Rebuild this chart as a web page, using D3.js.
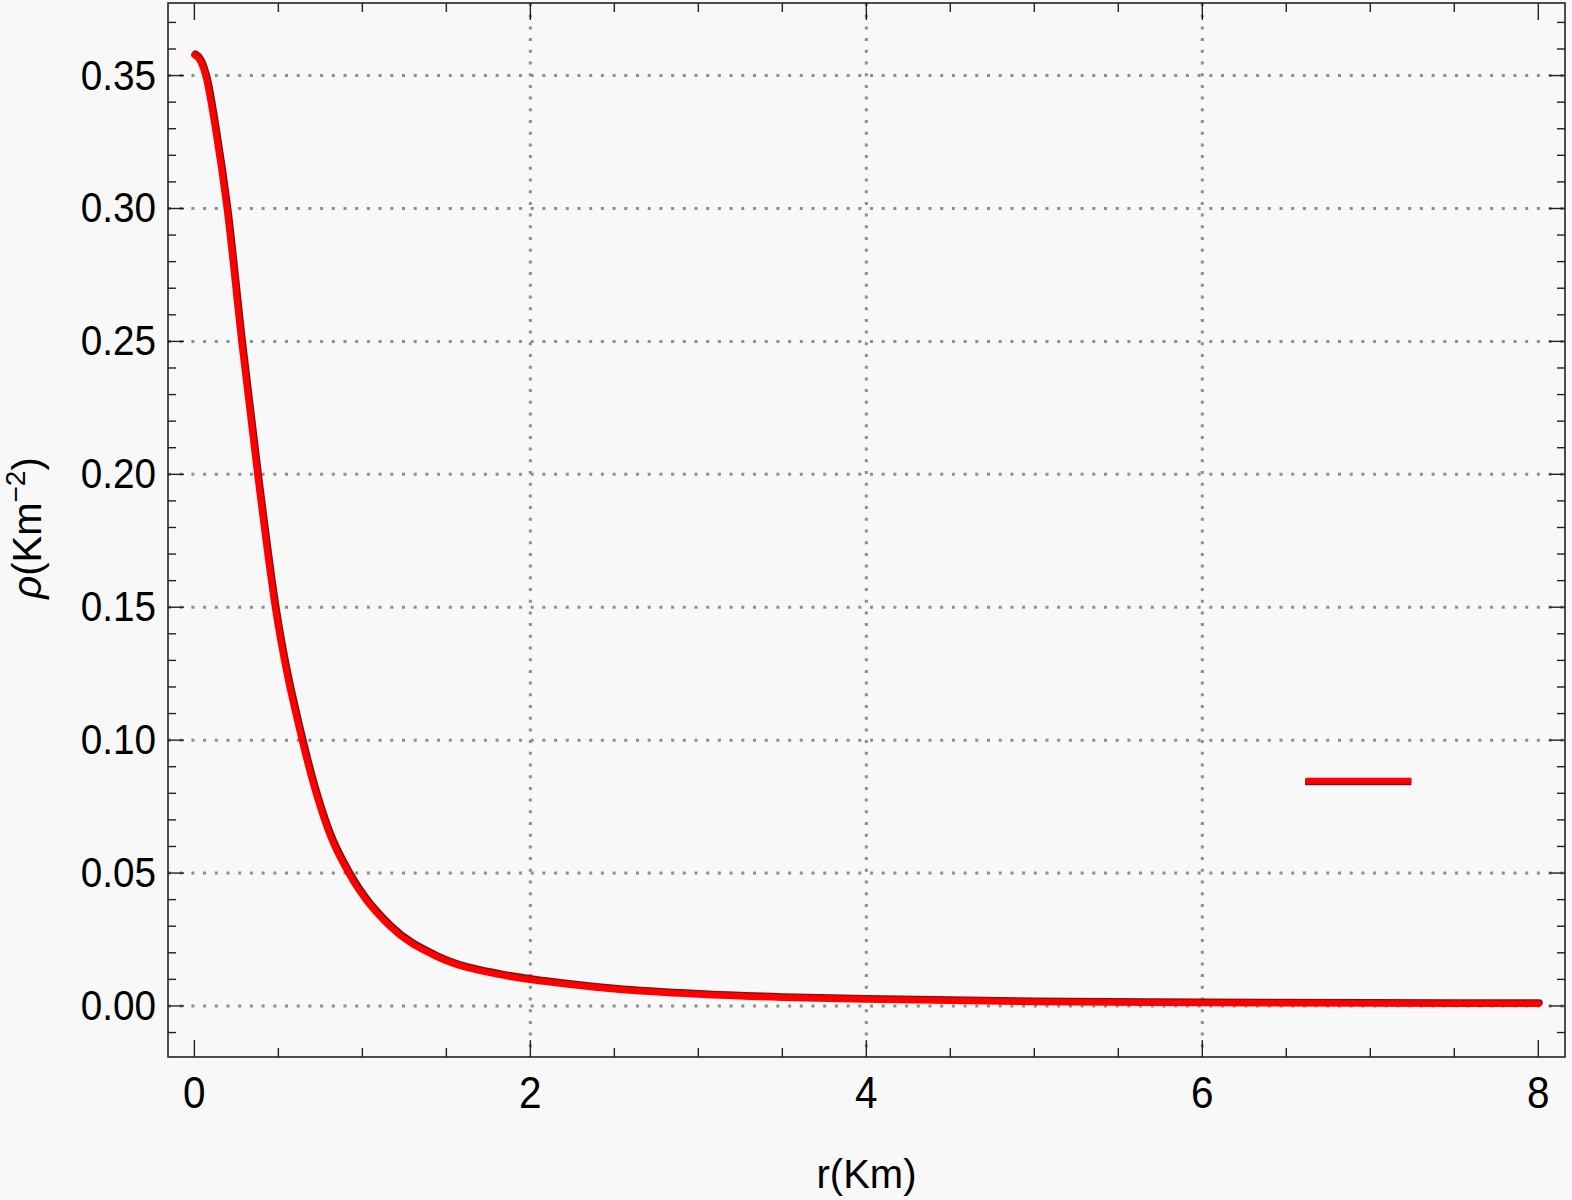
<!DOCTYPE html>
<html>
<head>
<meta charset="utf-8">
<script src="https://cdn.jsdelivr.net/npm/d3@7"></script>
<style>
  html, body { margin: 0; padding: 0; background: #f8f8f8; }
  svg { display: block; }
  text { font-family: "Liberation Sans", Arial, sans-serif; fill: #000; }
</style>
</head>
<body>
<svg id="chart" width="1572" height="1200"></svg>
<script>
// ---- data ----
const rValues   = [0, 0.035, 0.07, 0.124, 0.193, 0.28, 0.375, 0.48, 0.64, 0.81, 0.917, 1.165, 1.443, 1.82, 2.08, 2.5, 3.0, 3.5, 4.0, 5.0, 6.0, 7.0, 8.0];
const rhoValues = [0.3578, 0.3555, 0.349, 0.330, 0.30, 0.25, 0.20, 0.15, 0.10, 0.0637, 0.05, 0.0298, 0.0185, 0.0117, 0.0092, 0.0063, 0.0043, 0.0031, 0.0024, 0.0015, 0.0011, 0.0009, 0.0008];
const xTickLabels = [0, 2, 4, 6, 8];
const yTickLabels = [0.00, 0.05, 0.10, 0.15, 0.20, 0.25, 0.30, 0.35];
const xGridValues = [2, 4, 6];
const xDomain = [-0.157, 8.159];
const yDomain = [-0.0192, 0.3773];

// ---- layout ----
const W = 1572, H = 1200;
const frame = { left: 168, top: 3, right: 1565, bottom: 1057 };
const svg = d3.select("#chart");
svg.append("rect").attr("width", W).attr("height", H).attr("fill", "#f8f8f8");

const x = d3.scaleLinear().domain(xDomain).range([frame.left, frame.right]);
const y = d3.scaleLinear().domain(yDomain).range([frame.bottom, frame.top]);

// grid
const grid = svg.append("g").attr("stroke", "#8e8e8e").attr("stroke-width", 3)
  .attr("stroke-dasharray", "3,8.7").attr("fill", "none");
grid.selectAll("line.h").data(yTickLabels).join("line")
  .attr("x1", frame.left).attr("x2", frame.right)
  .attr("y1", d => y(d)).attr("y2", d => y(d));
grid.selectAll("line.v").data(xGridValues).join("line")
  .attr("y1", frame.top).attr("y2", frame.bottom)
  .attr("x1", d => x(d)).attr("x2", d => x(d));

// frame
svg.append("rect").attr("x", frame.left).attr("y", frame.top)
  .attr("width", frame.right - frame.left).attr("height", frame.bottom - frame.top)
  .attr("fill", "none").attr("stroke", "#222").attr("stroke-width", 1.6);

// ticks (inward, all four sides)
const ticks = svg.append("g").attr("stroke", "#222").attr("stroke-width", 1.4);
const xTicksAll = d3.range(0, 8.0001, 0.5);
const yTicksAll = d3.range(-1, 37.5, 1).map(v => v / 100);
const isMajorX = v => Math.abs(v / 2 - Math.round(v / 2)) < 1e-6;
const isMajorY = v => Math.abs(v * 20 - Math.round(v * 20)) < 1e-6;
xTicksAll.forEach(v => {
  const len = isMajorX(v) ? 17 : 9;
  ticks.append("line").attr("x1", x(v)).attr("x2", x(v)).attr("y1", frame.bottom).attr("y2", frame.bottom - len);
  ticks.append("line").attr("x1", x(v)).attr("x2", x(v)).attr("y1", frame.top).attr("y2", frame.top + len);
});
yTicksAll.forEach(v => {
  const len = isMajorY(v) ? 16 : 8;
  ticks.append("line").attr("y1", y(v)).attr("y2", y(v)).attr("x1", frame.left).attr("x2", frame.left + len);
  ticks.append("line").attr("y1", y(v)).attr("y2", y(v)).attr("x1", frame.right).attr("x2", frame.right - len);
});

// tick labels
const fmtY = d3.format(".2f");
svg.append("g").selectAll("text").data(yTickLabels).join("text")
  .attr("transform", d => `translate(${frame.left - 12},${y(d) + 14}) scale(0.9,1)`)
  .attr("text-anchor", "end").attr("font-size", 43).text(d => fmtY(d));
svg.append("g").selectAll("text").data(xTickLabels).join("text")
  .attr("transform", d => `translate(${x(d)},${frame.bottom + 51}) scale(0.92,1)`)
  .attr("text-anchor", "middle").attr("font-size", 44).text(d => d);

// axis labels
svg.append("text").attr("x", (frame.left + frame.right) / 2).attr("y", 1188)
  .attr("text-anchor", "middle").attr("font-size", 40).text("r(Km)");
const yl = svg.append("text").attr("transform", `translate(41,${528}) rotate(-90)`)
  .attr("text-anchor", "middle").attr("font-size", 40);
yl.append("tspan").attr("font-style", "italic").text("ρ");
yl.append("tspan").text("(Km");
yl.append("tspan").attr("dy", -16).attr("font-size", 28).text("−2");
yl.append("tspan").attr("dy", 16).text(")");

// curve
const pts = rValues.map((r, i) => [r, rhoValues[i]]);
const line = d3.line().x(d => x(d[0])).y(d => y(d[1])).curve(d3.curveMonotoneX);
svg.append("path").datum(pts).attr("d", line).attr("fill", "none")
  .attr("stroke", "#7a1414").attr("stroke-width", 7).attr("stroke-linecap", "round")
  .attr("transform", "translate(1,-1)");
svg.append("path").datum(pts).attr("d", line).attr("fill", "none")
  .attr("stroke", "#ff0000").attr("stroke-width", 6.5).attr("stroke-linecap", "round");

// legend sample (no label text in the reference)
const legend = { fx0: 0.814, fx1: 0.89, fy: 0.738 };
const lx0 = frame.left + legend.fx0 * (frame.right - frame.left);
const lx1 = frame.left + legend.fx1 * (frame.right - frame.left);
const ly = frame.top + legend.fy * (frame.bottom - frame.top);
svg.append("line").attr("x1", lx0).attr("x2", lx1).attr("y1", ly + 1).attr("y2", ly + 1)
  .attr("stroke", "#7a1414").attr("stroke-width", 7);
svg.append("line").attr("x1", lx0 + 1).attr("x2", lx1).attr("y1", ly).attr("y2", ly)
  .attr("stroke", "#ff0000").attr("stroke-width", 6);
</script>
</body>
</html>
